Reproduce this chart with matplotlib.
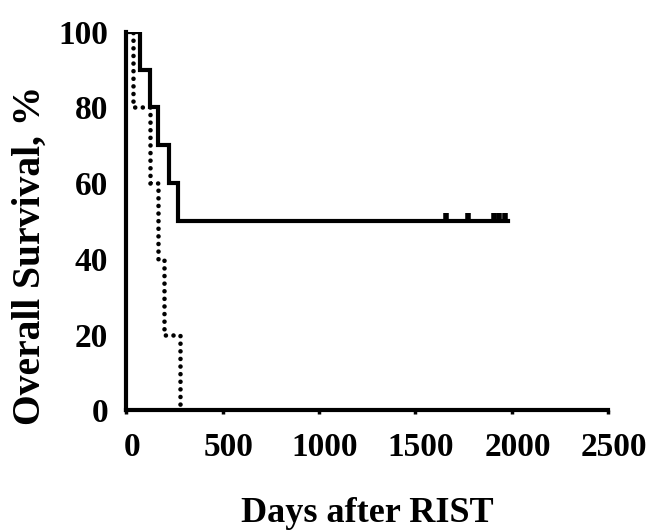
import matplotlib.pyplot as plt
from matplotlib.transforms import ScaledTranslation

# Kaplan-Meier step data (days after RIST, % surviving)
solid_days = [0, 69, 125, 166, 220, 267, 1980]
solid_surv = [100, 90, 80, 70, 60, 50, 50]
censor_days = [1658, 1772, 1908, 1934, 1965]
censor_surv = [50, 50, 50, 50, 50]

dotted_days = [0, 36, 121, 163, 194, 281]
dotted_surv = [100, 80, 60, 40, 20, 0]

x_ticks = [0, 500, 1000, 1500, 2000, 2500]
y_ticks = [0, 20, 40, 60, 80, 100]

plt.rcParams['font.family'] = ['Liberation Serif', 'DejaVu Serif']
plt.rcParams['font.weight'] = 'bold'

fig = plt.figure(figsize=(6.54, 5.30), dpi=100)
ax = fig.add_axes([0.193, 0.226, 0.737, 0.714])

ax.step(solid_days, solid_surv, where='post', color='black', lw=3.0,
        solid_joinstyle='miter', zorder=3)
ax.plot(censor_days, censor_surv, linestyle='none', marker=2, markersize=5.5,
        mew=4, color='black', zorder=4)
ax.step(dotted_days, dotted_surv, where='post', color='black', lw=3.3,
        linestyle=(0, (0.01, 1.65)), dash_capstyle='round', zorder=3)

ax.set_xlim(0, 2500)
ax.set_ylim(0, 100)
ax.set_xticks(x_ticks)
ax.set_yticks(y_ticks)
ax.tick_params(axis='x', direction='out', length=3, width=2.5, pad=13,
               labelsize=24)
ax.tick_params(axis='y', length=0, pad=13, labelsize=24)

# the x tick labels sit a little to the right of their ticks in the original
shift = ScaledTranslation(4 / 72, 0, fig.dpi_scale_trans)
for lab in ax.get_xticklabels():
    lab.set_transform(lab.get_transform() + shift)

for side in ['top', 'right']:
    ax.spines[side].set_visible(False)
for side in ['left', 'bottom']:
    ax.spines[side].set_linewidth(3)

ax.set_xlabel('Days after RIST', fontsize=26, fontweight='bold', labelpad=24)
ax.set_ylabel('Overall Survival, %', fontsize=28.5, fontweight='bold',
              labelpad=7, y=0.41)

fig.savefig('out.png', dpi=100)
